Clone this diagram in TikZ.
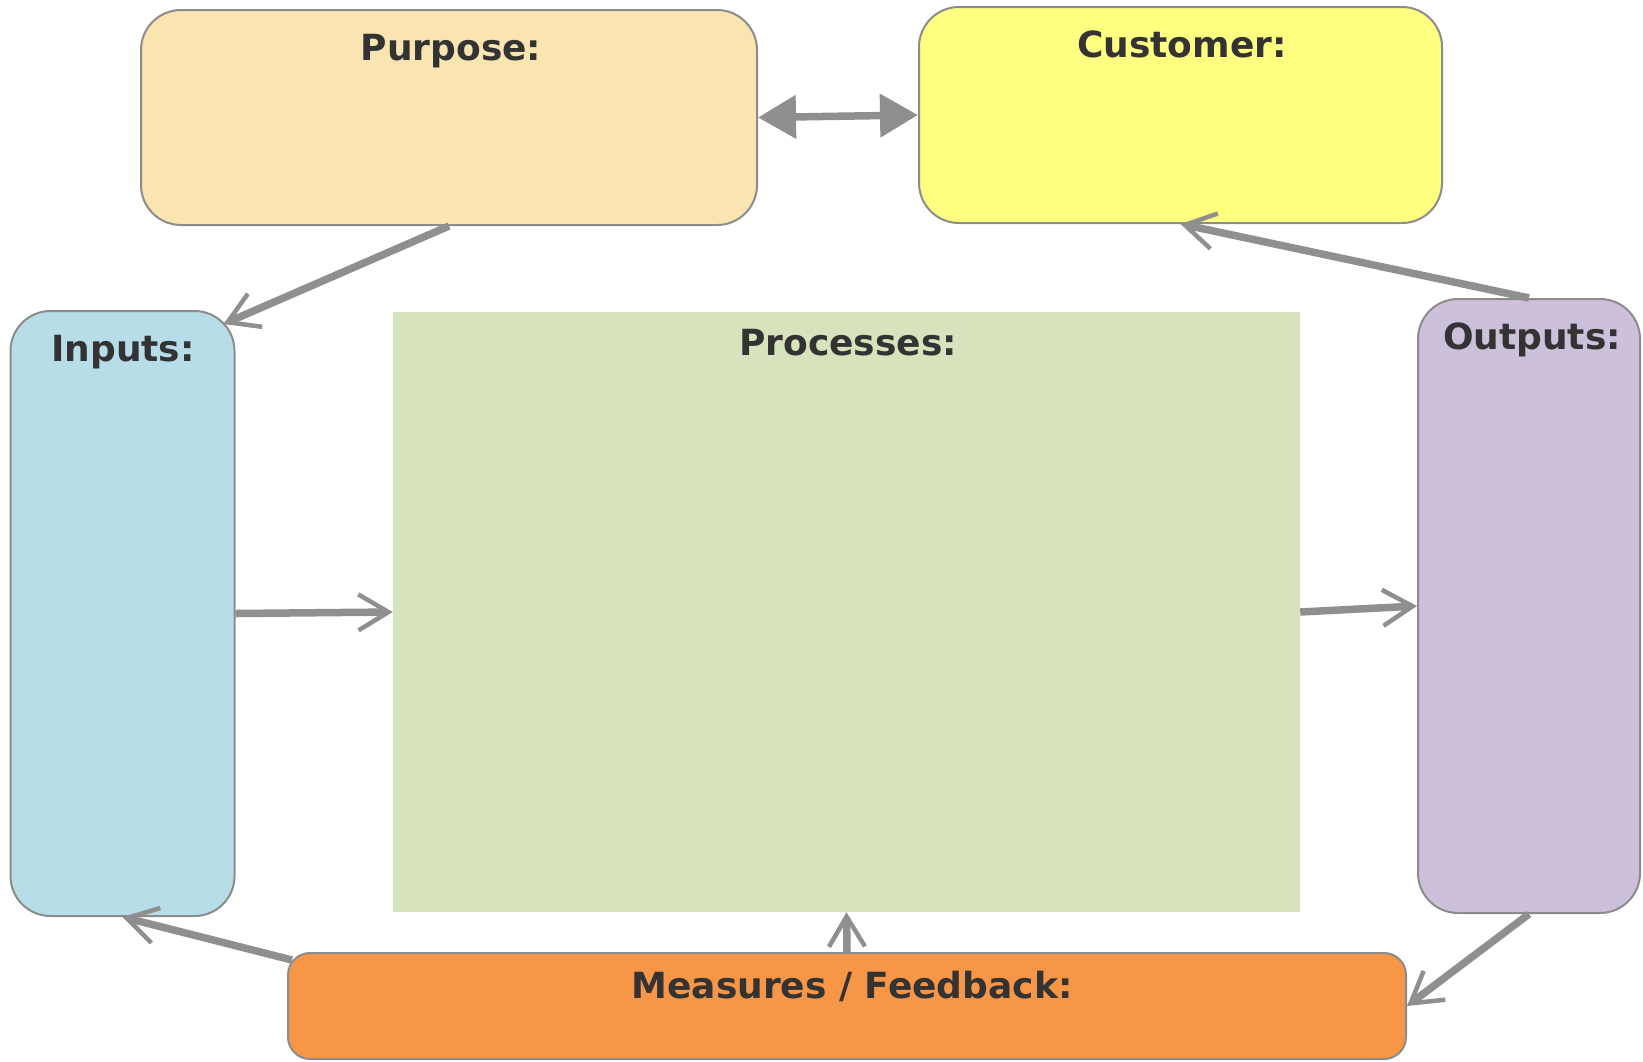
\documentclass[tikz,border=0pt]{standalone}
\usepackage{fontspec}
\setmainfont{DejaVu Sans}
\usetikzlibrary{arrows.meta}
\definecolor{boxline}{HTML}{8C8C8C}
\definecolor{arr}{HTML}{8F8F8F}
\definecolor{txt}{HTML}{333333}
\definecolor{cpurpose}{HTML}{FAE5B0}
\definecolor{ccustomer}{HTML}{FFFF80}
\definecolor{cinputs}{HTML}{B7DDE8}
\definecolor{cprocesses}{HTML}{D7E3BC}
\definecolor{coutputs}{HTML}{CCC0DA}
\definecolor{cmeasures}{HTML}{F79646}
\begin{document}
\begin{tikzpicture}[x=1pt,y=-1pt,
  box/.style={draw=boxline, line width=2pt, inner sep=0pt, rounded corners=40pt},
  title/.style={anchor=base, text=txt, inner sep=0pt, font=\bfseries\fontsize{36}{43}\selectfont},
  conn/.style={draw=arr, line width=7.5pt, -{Straight Barb[length=30pt,width=36pt,line width=4.5pt]}},
  conntwo/.style={draw=arr, line width=7.5pt, {Triangle[length=38pt,width=42pt]}-{Triangle[length=38pt,width=42pt]}}]
\useasboundingbox (0,0) rectangle (1643,1061);
\node[box, fill=cpurpose, minimum width=616pt, minimum height=215pt] (purpose) at (449,117.5) {};
\node[box, fill=ccustomer, minimum width=523pt, minimum height=216pt] (customer) at (1180.5,115) {};
\node[box, fill=cinputs, minimum width=224pt, minimum height=605pt] (inputs) at (122.5,613.5) {};
\node[fill=cprocesses, inner sep=0pt, minimum width=907pt, minimum height=600pt] (processes) at (846.5,612) {};
\node[box, fill=coutputs, minimum width=222pt, minimum height=614pt] (outputs) at (1529,606) {};
\node[box, fill=cmeasures, rounded corners=22pt, minimum width=1118pt, minimum height=106pt] (measures) at (847,1006) {};
\node[title] (purposet) at (451,60) {Purpose:};
\node[title] (customert) at (1182,57) {Customer:};
\node[title] (inputst) at (123,361) {Inputs:};
\node[title] (processest) at (848,355) {Processes:};
\node[title] (outputst) at (1532,349) {Outputs:};
\node[title] (measurest) at (852,998) {Measures / Feedback:};
\draw[conntwo] (purpose.east) -- (customer.west);
\draw[conn] (purpose.south) -- ([shift={(-12,14)}]inputs.north east);
\draw[conn] (outputs.north) -- (customer.south);
\draw[conn] (inputs.east) -- (processes.west);
\draw[conn] (processes.east) -- (outputs.west);
\draw[conn] (outputs.south) -- (measures.east);
\draw[conn] (measures.north) -- (processes.south);
\draw[conn] ([shift={(5,8)}]measures.north west) -- (inputs.south);
\end{tikzpicture}
\end{document}
